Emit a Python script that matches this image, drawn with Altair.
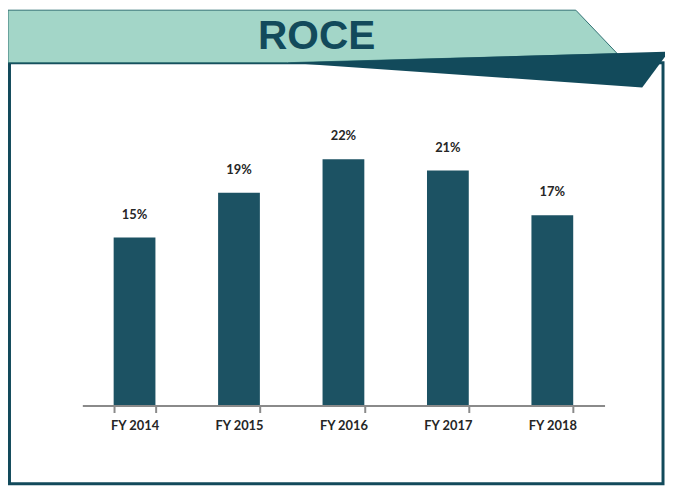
import altair as alt
import pandas as pd

# ---- data ----
years = ["FY 2014", "FY 2015", "FY 2016", "FY 2017", "FY 2018"]
roce = [15, 19, 22, 21, 17]
title_text = "ROCE"

df = pd.DataFrame({"year": years, "roce": roce})

# ---- layout (chart pixels) ----
W, H = 663, 480
PL, PT = 75, 60
PW, PH = 527, 339

DARK = "#124a5b"
BAR = "#1c5263"
MINT = "#a3d6c8"
AXIS = "#8a8a8a"


def path(points):
    return "M" + " L".join(f"{x},{y}" for x, y in points) + " Z"


banner_path = path([(-75, -60), (498, -60), (540, -16), (207, -7), (-75, -7)])
wedge_path = path([(207, -7), (588, -18), (588, -13), (565, 18)])

anchor = alt.Chart(pd.DataFrame({"a": [0]}))

box = anchor.mark_rect(fillOpacity=0, stroke=DARK, strokeWidth=3).encode(
    x=alt.value(-73.5), x2=alt.value(586), y=alt.value(-7), y2=alt.value(418)
)

banner = anchor.mark_point(
    shape=banner_path, size=4, filled=True, fill=MINT, stroke="#2f6f72",
    strokeWidth=1, opacity=1
).encode(x=alt.value(0), y=alt.value(0))

wedge = anchor.mark_point(
    shape=wedge_path, size=4, filled=True, fill=DARK, strokeWidth=0, opacity=1
).encode(x=alt.value(0), y=alt.value(0))

title = anchor.mark_text(
    text=title_text, font="Liberation Sans", fontSize=41, fontWeight="bold",
    color=DARK, align="center", baseline="middle"
).encode(x=alt.value(236.5), y=alt.value(-33))

base = alt.Chart(df)

x_enc = alt.X(
    "year:N", sort=years,
    scale=alt.Scale(paddingInner=0.6, paddingOuter=0.3),
    axis=alt.Axis(
        title=None, labelAngle=0, labelFont="Lato", labelFontSize=13,
        labelFontWeight="bold", labelColor="#262626", domainColor=AXIS,
        domainWidth=2, ticks=True, tickColor=AXIS, tickWidth=2, tickSize=7,
        tickBand="extent", labelPadding=7, grid=False, zindex=1
    ),
)
y_enc = alt.Y("roce:Q", scale=alt.Scale(domain=[0, 30]), axis=None)

bars = base.mark_bar(color=BAR).encode(x=x_enc, y=y_enc)

labels = base.transform_calculate(lbl="datum.roce + '%'").mark_text(
    font="Lato", fontSize=13, fontWeight="bold", color="#262626",
    baseline="middle", dy=-23
).encode(x=x_enc, y=y_enc, text="lbl:N")

chart = alt.layer(box, banner, wedge, title, bars, labels).properties(
    width=PW, height=PH,
    padding={"left": PL, "top": PT, "right": W - PL - PW, "bottom": H - PT - PH},
    autosize="none", background="white"
).configure_view(stroke=None)

chart.save("out.html", embed_options={"renderer": "svg", "actions": False})
